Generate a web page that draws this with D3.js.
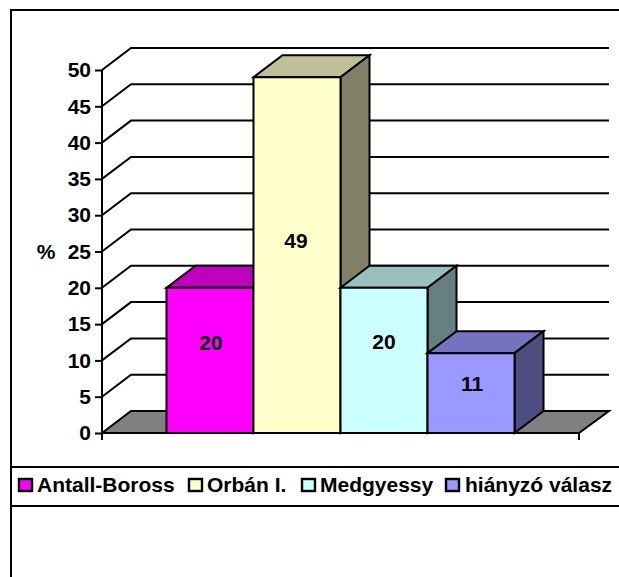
<!DOCTYPE html>
<html>
<head>
<meta charset="utf-8">
<script src="https://cdn.jsdelivr.net/npm/d3@7"></script>
<style>
html,body{margin:0;padding:0;background:#fff}
svg{display:block}
text{font-family:"Liberation Sans",Arial,sans-serif;font-weight:bold;fill:#000}
</style>
</head>
<body>
<svg id="c" width="619" height="577"></svg>
<script>
// Data
const seriesNames = ["Antall-Boross", "Orbán I.", "Medgyessy", "hiányzó válasz"];
const seriesValues = [20, 49, 20, 11];
const frontColors = ["#ff00ff", "#ffffcc", "#ccffff", "#9999ff"];
const topColors = ["#bf00bf", "#bfbf99", "#99bfbf", "#7373bf"];
const sideColors = ["#800080", "#808066", "#668080", "#4d4d80"];
const yTicks = [0, 5, 10, 15, 20, 25, 30, 35, 40, 45, 50];
const yTitle = "%";

// Layout
const dx = 29, dy = 22;
const labelLift = [17, 14, 18, 9];
const labelShift = [1, -1, 0, 1];
const legendSwatchX = [19, 189, 302, 446];
const legendTextX = [37, 207, 320, 465];

const svg = d3.select("#c");
const y = d3.scaleLinear().domain([0, 50]).range([433, 70]);
const x = d3.scaleBand().domain(seriesNames).range([102, 579]).paddingInner(0).paddingOuter(0.741);
const line = d3.line();
const sw = 2;

// frame
svg.append("path").attr("d", "M619,10H11V577").attr("fill", "none").attr("stroke", "#000").attr("stroke-width", sw);
svg.append("path").attr("d", "M11,467H619M11,506H619").attr("fill", "none").attr("stroke", "#000").attr("stroke-width", sw);

// floor
svg.append("path")
  .attr("d", line([[x.range()[0], y(0)], [x.range()[0] + dx, y(0) - dy], [x.range()[1] + dx + 1, y(0) - dy], [x.range()[1], y(0)]]) + "Z")
  .attr("fill", "#808080").attr("stroke", "#000").attr("stroke-width", sw).attr("stroke-linejoin", "miter");

// gridlines
svg.append("g").selectAll("path").data(yTicks.filter(d => d > 0)).join("path")
  .attr("d", d => line([[x.range()[0], y(d)], [x.range()[0] + dx, y(d) - dy], [x.range()[1] + dx + 1, y(d) - dy]]))
  .attr("fill", "none").attr("stroke", "#000").attr("stroke-width", sw);

// bars
const bars = svg.append("g").selectAll("g").data(seriesNames).join("g");
bars.each(function (name, i) {
  const g = d3.select(this);
  const l = x(name), r = l + x.bandwidth(), t = y(seriesValues[i]), b = y(0);
  const common = s => s.attr("stroke", "#000").attr("stroke-width", sw).attr("stroke-linejoin", "miter");
  g.append("path").attr("d", line([[l, t], [l + dx, t - dy], [r + dx, t - dy], [r, t]]) + "Z").attr("fill", topColors[i]).call(common);
  g.append("path").attr("d", line([[r, t], [r + dx, t - dy], [r + dx, b - dy], [r, b]]) + "Z").attr("fill", sideColors[i]).call(common);
  g.append("path").attr("d", line([[l, t], [r, t], [r, b], [l, b]]) + "Z").attr("fill", frontColors[i]).call(common);
});

// axis
const axis = svg.append("g").attr("transform", `translate(${x.range()[0]},0)`)
  .call(d3.axisLeft(y).tickValues(yTicks).tickSize(7).tickSizeOuter(0).tickPadding(4));
axis.selectAll("path,line").attr("stroke", "#000").attr("stroke-width", sw);
axis.select(".domain").attr("d", `M0,${y(50)}V${y(0) + 7}`);
axis.selectAll("text").attr("font-size", 21).attr("font-family", '"Liberation Sans",Arial,sans-serif').attr("font-weight", "bold").attr("fill", "#000");

// baseline + end tick
svg.append("path").attr("d", `M${x.range()[0]},${y(0)}H${x.range()[1]}V${y(0) + 7}`).attr("fill", "none").attr("stroke", "#000").attr("stroke-width", sw);

// axis title
svg.append("text").text(yTitle).attr("x", 46).attr("y", 259).attr("text-anchor", "middle").attr("font-size", 21);

// labels
svg.append("g").selectAll("text").data(seriesNames).join("text")
  .text((d, i) => seriesValues[i])
  .attr("x", (d, i) => x(d) + x.bandwidth() / 2 + labelShift[i])
  .attr("y", (d, i) => y(seriesValues[i] / 2) - labelLift[i] + 7)
  .attr("text-anchor", "middle").attr("font-size", 21);

// legend
const leg = svg.append("g").selectAll("g").data(seriesNames).join("g");
leg.append("rect").attr("x", (d, i) => legendSwatchX[i]).attr("y", 479).attr("width", 13).attr("height", 12)
  .attr("fill", (d, i) => frontColors[i]).attr("stroke", "#000").attr("stroke-width", 2.4);
leg.append("text").text(d => d).attr("x", (d, i) => legendTextX[i]).attr("y", 491.5).attr("font-size", 21);
</script>
</body>
</html>
